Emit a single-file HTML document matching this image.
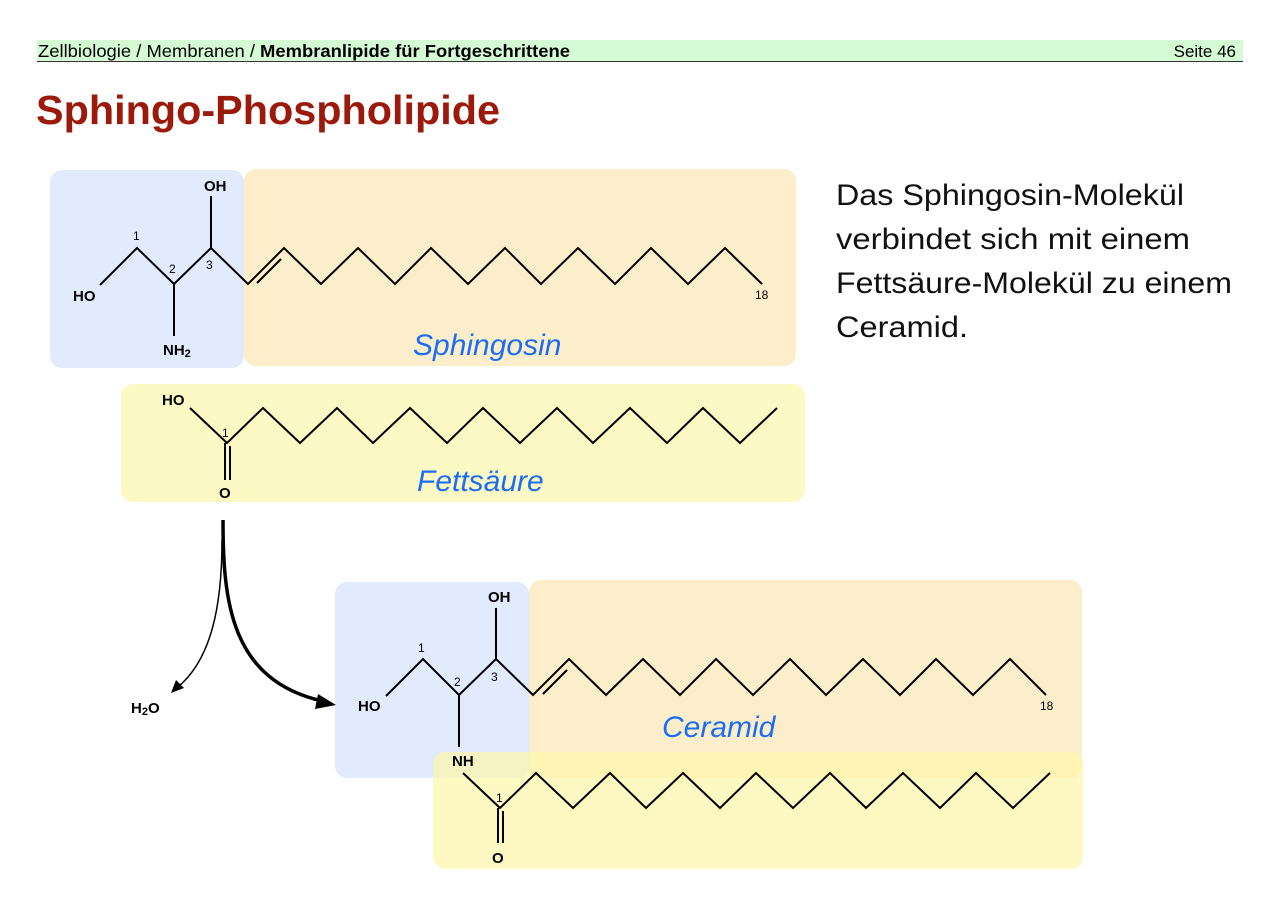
<!DOCTYPE html>
<html><head><meta charset="utf-8"><style>
body{margin:0;background:#fff;width:1280px;height:903px;overflow:hidden;font-family:"Liberation Sans",sans-serif}
</style></head><body>
<svg width="1280" height="903" xmlns="http://www.w3.org/2000/svg" font-family="Liberation Sans, sans-serif">
<rect x="37" y="40" width="1206" height="21" fill="#d5fbd5"/>
<line x1="37" y1="61.5" x2="1243" y2="61.5" stroke="#333" stroke-width="1"/>
<text x="38" y="57" font-size="17.5" fill="#000" textLength="532" lengthAdjust="spacingAndGlyphs">Zellbiologie / Membranen / <tspan font-weight="bold">Membranlipide für Fortgeschrittene</tspan></text>
<text x="1236" y="57" font-size="17" text-anchor="end">Seite 46</text>
<text x="36" y="124" font-size="41" font-weight="bold" fill="#9b1a0b" textLength="464" lengthAdjust="spacingAndGlyphs">Sphingo-Phospholipide</text>
<g font-size="30" fill="#111">
<text x="836" y="205" textLength="348" lengthAdjust="spacingAndGlyphs">Das Sphingosin-Molekül</text>
<text x="836" y="249" textLength="354" lengthAdjust="spacingAndGlyphs">verbindet sich mit einem</text>
<text x="836" y="293" textLength="396" lengthAdjust="spacingAndGlyphs">Fettsäure-Molekül zu einem</text>
<text x="836" y="337" textLength="132" lengthAdjust="spacingAndGlyphs">Ceramid.</text>
</g>
<rect x="50" y="170" width="194" height="198" rx="12" fill="#e1ebfd"/>
<rect x="244" y="169" width="552" height="197" rx="12" fill="#fdeecb"/>
<rect x="121" y="384" width="684" height="118" rx="12" fill="#fdf9c4"/>
<rect x="335" y="582" width="194" height="196" rx="12" fill="#e1ebfd"/>
<rect x="529" y="580" width="553" height="198" rx="12" fill="#fdeecb"/>
<rect x="433" y="752" width="650" height="117" rx="12" fill="#fdf6a8" fill-opacity="0.7"/>
<g stroke="#000" stroke-width="2" fill="none" stroke-linejoin="miter">
<polyline points="100,285 137,248 174,284 211,248 248,284 284,248 321,284 358,248 395,284 431,248 468,284 505,248 541,284 578,248 615,284 651,248 688,284 725,248 762,284"/>
<line x1="257" y1="283" x2="281" y2="259"/>
<line x1="211" y1="248" x2="211" y2="196"/>
<line x1="174" y1="284" x2="174" y2="336"/>
<polyline points="190,408 227,443 263,408 300,443 337,408 373,443 410,408 447,443 483,408 520,443 557,408 593,443 630,408 667,443 703,408 740,443 777,408"/>
<line x1="225" y1="443" x2="225" y2="480"/><line x1="230" y1="446" x2="230" y2="480"/>
<polyline points="386,696 423,659 459,695 496,659 533,695 569,659 606,695 643,659 680,695 716,659 753,695 790,659 826,695 863,659 900,695 936,659 973,695 1010,659 1046,695"/>
<line x1="543" y1="694" x2="567" y2="670"/>
<line x1="496" y1="659" x2="496" y2="608"/>
<line x1="459" y1="695" x2="459" y2="747"/>
<polyline points="463,773 500,808 536,773 573,808 610,773 646,808 683,773 720,808 756,773 793,808 830,773 866,808 903,773 940,808 976,773 1013,808 1050,773"/>
<line x1="498" y1="808" x2="498" y2="843"/><line x1="503" y1="811" x2="503" y2="843"/>
</g>
<path d="M223,520 C223,600 230,680 322,701" stroke="#000" stroke-width="3.5" fill="none"/>
<polygon points="336,705 318,694 315,709" fill="#000"/>
<path d="M222,540 C222,610 210,660 178,687" stroke="#000" stroke-width="1.5" fill="none"/>
<polygon points="171,693 176,680 184,688" fill="#000"/>
<g font-size="15" font-weight="bold" fill="#000">
<text x="73" y="301">HO</text>
<text x="204" y="191">OH</text>
<text x="163" y="355">NH<tspan font-size="11" dy="2">2</tspan></text>
<text x="162" y="405">HO</text>
<text x="219" y="498">O</text>
<text x="131" y="713">H<tspan font-size="11" dy="2">2</tspan><tspan dy="-2">O</tspan></text>
<text x="358" y="711">HO</text>
<text x="488" y="602">OH</text>
<text x="452" y="766">NH</text>
<text x="492" y="863">O</text>
</g>
<g font-size="12" fill="#000">
<text x="133" y="240">1</text><text x="169" y="273">2</text><text x="206" y="269">3</text>
<text x="755" y="299">18</text>
<text x="222" y="437">1</text>
<text x="418" y="652">1</text><text x="454" y="686">2</text><text x="491" y="681">3</text>
<text x="1040" y="710">18</text>
<text x="496" y="802">1</text>
</g>
<g font-size="30" font-style="italic" fill="#1a6df5">
<text x="413" y="355">Sphingosin</text>
<text x="417" y="491">Fettsäure</text>
<text x="662" y="737">Ceramid</text>
</g>
</svg>
</body></html>
